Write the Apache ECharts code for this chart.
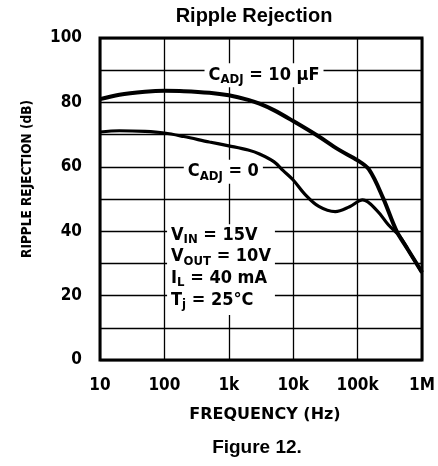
<!DOCTYPE html>
<html>
<head>
<meta charset="utf-8">
<script src="https://cdn.jsdelivr.net/npm/echarts@6/dist/echarts.min.js"></script>
<style>
  html, body { margin: 0; padding: 0; background: #fff; }
  #chart { width: 438px; height: 466px; }
</style>
</head>
<body>
<div id="chart"></div>
<script>
    // data (frequency in Hz, rejection in dB)
    var freqTicks = [10, 100, 1000, 10000, 100000, 1000000];
    var freqLabels = ['10', '100', '1k', '10k', '100k', '1M'];
    var dbTicks = [0, 20, 40, 60, 80, 100];

    var adj10Freq = [10, 20, 50, 100, 200, 500, 1000, 2000, 3000, 5000, 10000, 25000, 50000, 100000, 150000, 250000, 400000, 600000, 1000000];
    var adj10Db   = [81, 82.4, 83.3, 83.6, 83.5, 83, 82.2, 80.8, 79.6, 77.6, 74.2, 69.4, 65.4, 62, 59.2, 50.2, 40.2, 34.4, 27.2];

    var adj0Freq = [10, 20, 50, 100, 200, 500, 1000, 2000, 3000, 5000, 7000, 10000, 15000, 25000, 45000, 75000, 120000, 200000, 300000, 450000, 600000, 1000000];
    var adj0Db   = [70.8, 71.2, 71, 70.5, 69.4, 67.7, 66.5, 65.2, 64, 61.6, 58.8, 55.9, 51.6, 47.7, 46.1, 47.6, 49.7, 46.4, 42, 38.4, 34.4, 27.2];

    var font = "'DejaVu Sans Condensed', 'Liberation Sans', sans-serif";
    var plainFont = "'Liberation Sans', Arial, sans-serif";

    function pairs(xs, ys) {
        var out = [];
        for (var i = 0; i < xs.length; i++) out.push([xs[i], ys[i]]);
        return out;
    }

    var myChart = echarts.init(document.getElementById('chart'));

    var option = {
        animation: false,
        backgroundColor: '#fff',
        grid: {
            left: 100, right: 16, top: 38, bottom: 106,
            show: true, borderColor: '#000', borderWidth: 3, backgroundColor: 'transparent'
        },
        xAxis: {
            type: 'log',
            logBase: 10,
            min: 10,
            max: 1000000,
            axisLine: { show: false },
            axisTick: { show: false },
            splitLine: { show: true, lineStyle: { color: '#000', width: 1.3 } },
            axisLabel: {
                margin: 17,
                fontFamily: font, fontWeight: 'bold', fontSize: 17, color: '#000',
                formatter: function (v) {
                    var i = freqTicks.indexOf(Math.round(v));
                    return i >= 0 ? freqLabels[i] : '';
                }
            }
        },
        yAxis: {
            type: 'value',
            min: 0,
            max: 100,
            interval: 10,
            axisLine: { show: false },
            axisTick: { show: false },
            splitLine: { show: true, lineStyle: { color: '#000', width: 1.3 } },
            axisLabel: {
                margin: 18,
                fontFamily: font, fontWeight: 'bold', fontSize: 17, color: '#000',
                formatter: function (v) {
                    return dbTicks.indexOf(v) >= 0 ? String(v) : '';
                }
            }
        },
        series: [
            {
                name: 'CADJ = 10uF',
                type: 'line',
                smooth: 0.35,
                symbol: 'none',
                lineStyle: { color: '#000', width: 4 },
                data: pairs(adj10Freq, adj10Db),
                z: 5
            },
            {
                name: 'CADJ = 0',
                type: 'line',
                smooth: 0.35,
                symbol: 'none',
                lineStyle: { color: '#000', width: 3.2 },
                data: pairs(adj0Freq, adj0Db),
                z: 5
            }
        ]
    };
    myChart.setOption(option);

    // annotations, anchored in data coordinates
    function px(f, db) {
        return myChart.convertToPixel({ gridIndex: 0 }, [f, db]);
    }
    var rich = {
        b: { fontFamily: font, fontWeight: 'bold', fontSize: 18, color: '#000' },
        s: { fontFamily: font, fontWeight: 'bold', fontSize: 13, color: '#000', padding: [9, 0, 0, 0] }
    };
    var p10 = px(420, 90);
    var p0 = px(200, 60);
    var pCond = px(110, 40);

    myChart.setOption({
        graphic: [
            {
                type: 'text', x: 254, y: 16,
                style: { text: 'Ripple Rejection', fill: '#000', font: 'bold 20px ' + plainFont, align: 'center', verticalAlign: 'middle' }
            },
            {
                type: 'text', x: 257, y: 448,
                style: { text: 'Figure 12.', fill: '#000', font: 'bold 19px ' + plainFont, align: 'center', verticalAlign: 'middle' }
            },
            {
                type: 'text', x: 265, y: 415,
                style: { text: 'FREQUENCY (Hz)', fill: '#000', font: 'bold 16px ' + "'DejaVu Sans', sans-serif", align: 'center', verticalAlign: 'middle' }
            },
            {
                type: 'text', x: 27, y: 179, rotation: Math.PI / 2,
                style: { text: 'RIPPLE REJECTION (dB)', fill: '#000', font: 'bold 13.5px ' + font, align: 'center', verticalAlign: 'middle' }
            },
            {
                type: 'text', x: p10[0], y: p10[1] + 5, z: 10,
                style: {
                    text: '{b|C}{s|ADJ}{b| = 10 μF}', rich: rich,
                    backgroundColor: '#fff', padding: [1, 4, 1, 4],
                    align: 'left', verticalAlign: 'middle'
                }
            },
            {
                type: 'text', x: p0[0], y: p0[1] + 5, z: 10,
                style: {
                    text: '{b|C}{s|ADJ}{b| = 0}', rich: rich,
                    backgroundColor: '#fff', padding: [1, 4, 1, 4],
                    align: 'left', verticalAlign: 'middle'
                }
            },
            {
                type: 'text', x: pCond[0], y: pCond[1] - 7, z: 10,
                style: {
                    text: '{b|V}{s|IN}{b| = 15V}\n{b|V}{s|OUT}{b| = 10V}\n{b|I}{s|L}{b| = 40 mA}\n{b|T}{s|j}{b| = 25°C}',
                    rich: rich, lineHeight: 21.7,
                    backgroundColor: '#fff', padding: [0, 4, 4, 4],
                    align: 'left', verticalAlign: 'top'
                }
            }
        ]
    });
</script>
</body>
</html>
